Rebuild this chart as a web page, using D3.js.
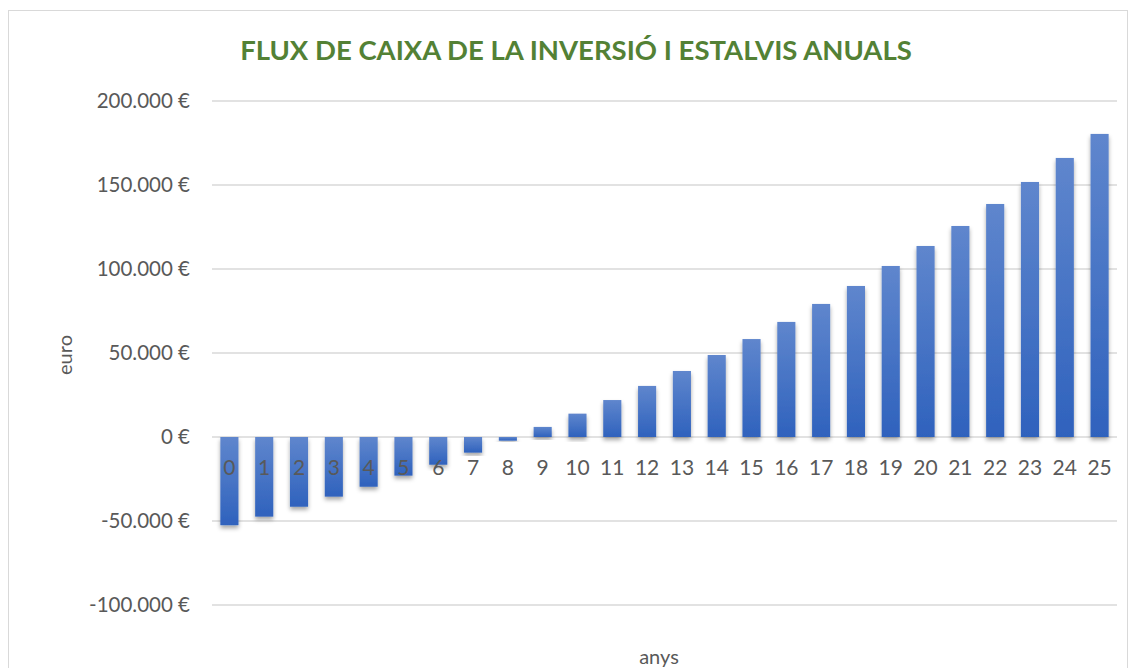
<!DOCTYPE html>
<html>
<head>
<meta charset="utf-8">
<script src="https://cdn.jsdelivr.net/npm/d3@7"></script>
<style>
  body { margin: 0; background: #fff; }
  text { font-family: Lato, 'Open Sans', sans-serif; }
</style>
</head>
<body>
<div id="chart"></div>
<script>
const years = d3.range(0, 26).map(String);
const flows = [-52500, -47400, -41500, -35500, -29600, -23000, -16500, -9300, -2200,
  6000, 13900, 22000, 30400, 39300, 48800, 58300, 68500, 79200, 89900,
  101800, 113700, 125600, 138700, 151800, 166100, 180400];
const yTicks = [-100000, -50000, 0, 50000, 100000, 150000, 200000];

const W = 1131, H = 668;
const margin = { top: 101, right: 14, bottom: 63, left: 212 };
const width = W - margin.left - margin.right;
const height = H - margin.top - margin.bottom;

const svg = d3.select('#chart')
  .append('svg')
  .attr('width', W)
  .attr('height', H);

const defs = svg.append('defs');
const grad = defs.append('linearGradient')
  .attr('id', 'barGrad')
  .attr('x1', 0).attr('y1', 0).attr('x2', 0).attr('y2', 1);
grad.append('stop').attr('offset', '0%').attr('stop-color', '#5f86cd');
grad.append('stop').attr('offset', '100%').attr('stop-color', '#2f62bd');

const shadow = defs.append('filter')
  .attr('id', 'shadow')
  .attr('x', '-30%').attr('y', '-10%').attr('width', '160%').attr('height', '130%');
shadow.append('feDropShadow')
  .attr('dx', 0).attr('dy', 3).attr('stdDeviation', 2.2)
  .attr('flood-color', '#000').attr('flood-opacity', 0.35);

// chart border
svg.append('rect')
  .attr('x', 8.5).attr('y', 10.5)
  .attr('width', W - 12).attr('height', H)
  .attr('fill', 'none')
  .attr('stroke', '#d9d9d9');

const g = svg.append('g')
  .attr('transform', `translate(${margin.left}, ${margin.top})`);

const x = d3.scaleBand()
  .domain(years)
  .range([0, width])
  .paddingInner(0.48)
  .paddingOuter(0.24);

const y = d3.scaleLinear()
  .domain([-100000, 200000])
  .range([504, 0]);

const fmt = v => (v < 0 ? '-' : '') + d3.format(',')(Math.abs(v)).replace(/,/g, '.') + ' €';

// gridlines
g.append('g')
  .selectAll('line')
  .data(yTicks)
  .join('line')
  .attr('x1', 0)
  .attr('x2', width)
  .attr('y1', d => y(d))
  .attr('y2', d => y(d))
  .attr('stroke', '#d9d9d9')
  .attr('stroke-width', 1.3);

// y axis labels
const yAxis = g.append('g')
  .call(d3.axisLeft(y).tickValues(yTicks).tickFormat(fmt).tickSize(0).tickPadding(22));
yAxis.select('.domain').remove();
yAxis.selectAll('text')
  .attr('font-family', 'Lato, sans-serif')
  .attr('font-size', '20.5px')
  .attr('fill', '#595959');

// bars
g.append('g')
  .selectAll('rect')
  .data(flows)
  .join('rect')
  .attr('x', (d, i) => x(years[i]))
  .attr('width', x.bandwidth())
  .attr('y', d => y(Math.max(0, d)))
  .attr('height', d => Math.abs(y(d) - y(0)))
  .attr('fill', 'url(#barGrad)')
  .attr('filter', 'url(#shadow)');

// category labels next to the zero line
const xAxis = g.append('g')
  .attr('transform', `translate(0, ${y(0)})`)
  .call(d3.axisBottom(x).tickSize(0).tickPadding(23));
xAxis.select('.domain').remove();
xAxis.selectAll('text')
  .attr('font-family', 'Lato, sans-serif')
  .attr('font-size', '21px')
  .attr('fill', '#595959');

// title
svg.append('text')
  .attr('x', 576)
  .attr('y', 60)
  .attr('text-anchor', 'middle')
  .attr('font-size', '27.5px')
  .attr('font-weight', 'bold')
  .attr('fill', '#538135')
  .text('FLUX DE CAIXA DE LA INVERSIÓ I ESTALVIS ANUALS');

// axis titles
svg.append('text')
  .attr('transform', 'translate(72, 355) rotate(-90)')
  .attr('text-anchor', 'middle')
  .attr('font-size', '20px')
  .attr('fill', '#595959')
  .text('euro');

svg.append('text')
  .attr('x', 659)
  .attr('y', 664)
  .attr('text-anchor', 'middle')
  .attr('font-size', '20px')
  .attr('fill', '#595959')
  .text('anys');
</script>
</body>
</html>
